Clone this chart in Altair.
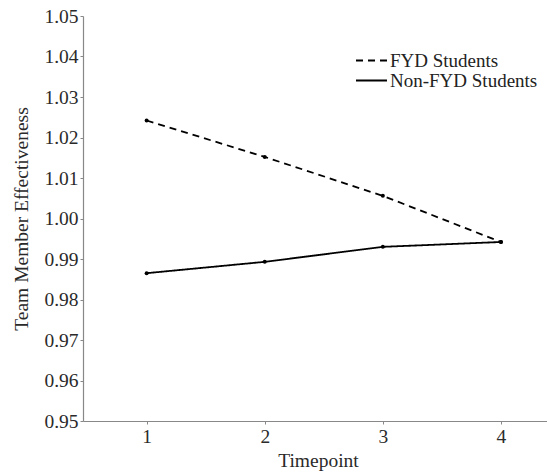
import altair as alt
import pandas as pd

timepoints = [1, 2, 3, 4]
fyd = [1.0242, 1.0152, 1.0056, 0.9942]
non_fyd = [0.9865, 0.9893, 0.9930, 0.9942]
series_names = ["FYD Students", "Non-FYD Students"]
y_ticks = [0.95, 0.96, 0.97, 0.98, 0.99, 1.00, 1.01, 1.02, 1.03, 1.04, 1.05]

rows = []
for t, v in zip(timepoints, fyd):
    rows.append({"Timepoint": t, "value": v, "group": series_names[0]})
for t, v in zip(timepoints, non_fyd):
    rows.append({"Timepoint": t, "value": v, "group": series_names[1]})
df = pd.DataFrame(rows)

FONT = "Liberation Serif"

x = alt.X("Timepoint:Q",
          scale=alt.Scale(domain=[0.461, 4.39], nice=False, zero=False),
          axis=alt.Axis(values=timepoints, format="d", title="Timepoint",
                        grid=False, tickSize=3, labelPadding=3,
                        titlePadding=6, titleX=235))
y = alt.Y("value:Q",
          scale=alt.Scale(domain=[0.95, 1.05], nice=False, zero=False),
          axis=alt.Axis(values=y_ticks, format=".2f",
                        title="Team Member Effectiveness",
                        grid=False, tickSize=3, labelPadding=2,
                        titlePadding=12))

lines = alt.Chart(df).mark_line(color="black", strokeWidth=1.8).encode(
    x=x, y=y,
    strokeDash=alt.StrokeDash(
        "group:N",
        scale=alt.Scale(domain=series_names, range=[[7, 5], [1, 0]]),
        legend=alt.Legend(title=None, orient="none", legendX=271, legendY=35,
                          symbolType="M-2,0H2", symbolSize=240,
                          symbolStrokeColor="black", symbolStrokeWidth=1.8,
                          labelFont=FONT, labelFontSize=19, labelColor="#222",
                          labelOffset=9, rowPadding=-5, symbolOffset=8)),
)

points = alt.Chart(df).mark_point(filled=True, color="black", size=16, opacity=1).encode(
    x=x, y=y,
)

chart = alt.layer(lines, points).properties(
    width=464, height=405,
    autosize=alt.AutoSizeParams(type="none"),
    padding={"left": 83, "top": 16, "right": 0, "bottom": 52},
).configure_view(stroke=None).configure_axis(
    labelFont=FONT, titleFont=FONT, labelFontSize=19.5, titleFontSize=19.5,
    labelColor="#2a2a2a", titleColor="#2a2a2a", titleFontWeight="normal",
    domainColor="#888", tickColor="#888", domainWidth=1.2,
)

chart.save("out.html", embed_options={"renderer": "svg", "actions": False})
